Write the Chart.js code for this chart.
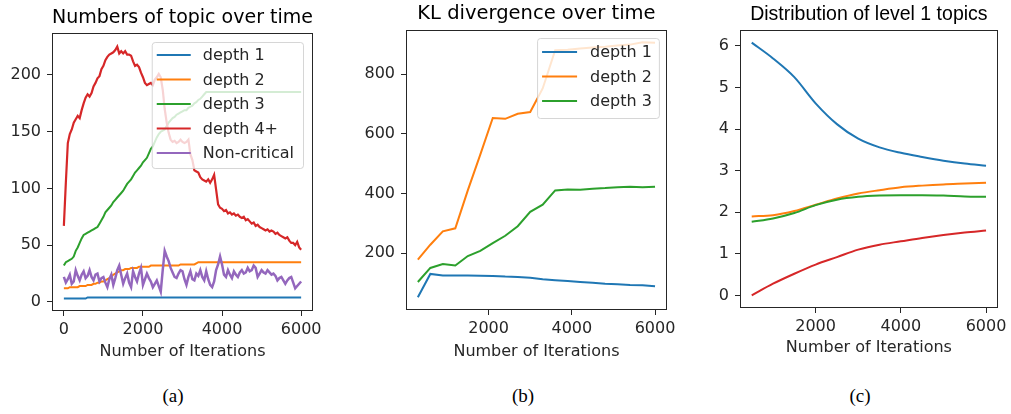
<!DOCTYPE html>
<html><head><meta charset="utf-8">
<script src="https://cdn.jsdelivr.net/npm/chart.js@4.4.1/dist/chart.umd.min.js"></script>
<style>
html,body{margin:0;padding:0;background:#fff;width:1011px;height:414px;overflow:hidden;position:relative;}
canvas{position:absolute;top:0;}
.cap{position:absolute;top:385px;font-family:"Liberation Serif","Times New Roman",serif;font-size:19px;color:#000;transform:translateX(-50%);}
</style></head><body>
<canvas id="ca" width="335" height="372" style="left:0px"></canvas>
<canvas id="cb" width="335" height="372" style="left:345px"></canvas>
<canvas id="cc" width="331" height="372" style="left:680px"></canvas>
<div class="cap" style="left:173px">(a)</div>
<div class="cap" style="left:523px">(b)</div>
<div class="cap" style="left:860px">(c)</div>
<script>
// ---------- Panel (a): Numbers of topic over time ----------
const iterA = [
 0,50,100,150,200,250,300,350,400,450,500,550,600,650,700,750,800,850,900,950,
 1000,1050,1100,1150,1200,1250,1300,1350,1400,1450,1500,1550,1600,1650,1700,1750,1800,1850,1900,1950,
 2000,2050,2100,2150,2200,2250,2300,2350,2400,2450,2500,2550,2600,2650,2700,2750,2800,2850,2900,2950,
 3000,3050,3100,3150,3200,3250,3300,3350,3400,3450,3500,3550,3600,3650,3700,3750,3800,3850,3900,3950,
 4000,4050,4100,4150,4200,4250,4300,4350,4400,4450,4500,4550,4600,4650,4700,4750,4800,4850,4900,4950,
 5000,5050,5100,5150,5200,5250,5300,5350,5400,5450,5500,5550,5600,5650,5700,5750,5800,5850,5900,5950,
 6000];
const depth1A = [
 3,3,3,3,3,3,3,3,3,3,3,3,4,4,4,4,4,4,4,4,
 4,4,4,4,4,4,4,4,4,4,4,4,4,4,4,4,4,4,4,4,
 4,4,4,4,4,4,4,4,4,4,4,4,4,4,4,4,4,4,4,4,
 4,4,4,4,4,4,4,4,4,4,4,4,4,4,4,4,4,4,4,4,
 4,4,4,4,4,4,4,4,4,4,4,4,4,4,4,4,4,4,4,4,
 4,4,4,4,4,4,4,4,4,4,4,4,4,4,4,4,4,4,4,4,
 4];
const depth2A = [
 12,12,12,13,13,13,13,13,14,14,14,14,15,15,15,16,16,17,17,18,
 18,19,20,21,22,24,25,26,27,28,28,29,29,29,30,30,30,30,31,31,
 31,31,31,31,32,32,32,32,32,32,32,32,32,32,32,32,32,32,32,33,
 33,33,33,33,33,33,33,34,35,35,35,35,35,35,35,35,35,35,35,35,
 35,35,35,35,35,35,35,35,35,35,35,35,35,35,35,35,35,35,35,35,
 35,35,35,35,35,35,35,35,35,35,35,35,35,35,35,35,35,35,35,35,
 35];
const depth3A = [
 32,35,36,37,38,40,45,48,52,56,59,60,61,62,63,64,65,66,69,72,
 75,79,81,83,85,88,90,92,94,96,98,101,104,106,108,111,114,116,118,120,
 123,125,127,131,135,137,141,145,148,150,151,152,155,158,160,162,163,165,166,167,
 168,169,169,171,172,173,175,176,178,179,181,183,185,185,185,185,185,185,185,185,
 185,185,185,185,185,185,185,185,185,185,185,185,185,185,185,185,185,185,185,185,
 185,185,185,185,185,185,185,185,185,185,185,185,185,185,185,185,185,185,185,185,
 185];
const depth4A = [
 67,105,140,148,152,158,161,164,162,169,175,180,183,181,184,190,193,197,199,205,
 208,213,216,218,219,220,222,225,219,221,219,221,218,218,217,212,208,209,207,202,
 198,193,191,192,193,191,196,198,201,198,187,170,158,149,143,141,142,140,141,143,
 141,140,141,143,130,125,116,115,114,110,108,107,106,108,105,108,112,99,86,83,
 82,80,81,78,79,77,78,76,77,75,74,75,72,73,71,69,70,67,68,66,
 65,64,63,64,62,63,62,60,61,59,58,57,56,57,54,52,52,50,53,48,
 46];
const nonCriticalA = [
 22,17,20,24,16,18,28,23,19,24,27,21,23,28,22,19,24,25,18,21,
 22,17,13,20,24,15,21,28,32,24,16,21,25,17,13,27,22,18,25,30,
 15,20,25,21,18,13,16,19,14,9,28,45,40,36,30,26,22,21,25,28,
 27,20,15,22,27,20,19,25,23,28,22,19,27,20,15,13,18,28,33,40,
 33,24,22,28,24,21,27,24,22,26,28,25,26,30,27,28,32,30,22,25,
 28,26,25,28,26,24,25,23,19,21,22,19,16,19,21,22,17,12,14,16,
 18];
const xTicksA = [0,2000,4000,6000];
const yTicksA = [0,50,100,150,200];

// ---------- Panel (b): KL divergence over time ----------
const iterB = [300,600,900,1200,1500,1800,2100,2400,2700,3000,3300,3600,3900,4200,4500,4800,5100,5400,5700,6000];
const klDepth1 = [52,130,125,125,125,124,123,121,120,117,112,109,106,103,100,97,95,93,92,89];
const klDepth2 = [178,228,273,283,410,530,653,650,667,673,752,880,882,886,889,892,896,899,907,905];
const klDepth3 = [103,150,163,158,190,207,233,258,290,338,362,410,413,412,416,418,421,422,421,422];
const xTicksB = [2000,4000,6000];
const yTicksB = [200,400,600,800];

// ---------- Panel (c): Distribution of level 1 topics ----------
const iterC = [500,1000,1500,2000,2500,3000,3500,4000,4500,5000,5500,6000];
const distBlue   = [6.08,5.70,5.25,4.62,4.12,3.77,3.56,3.43,3.33,3.24,3.17,3.12];
const distOrange = [1.90,1.93,2.03,2.18,2.33,2.45,2.53,2.60,2.64,2.67,2.69,2.71];
const distGreen  = [1.77,1.85,1.98,2.17,2.30,2.37,2.40,2.41,2.41,2.40,2.38,2.37];
const distRed    = [0.00,0.28,0.52,0.74,0.92,1.10,1.22,1.30,1.38,1.45,1.51,1.56];
const xTicksC = [2000,4000,6000];
const yTicksC = [0,1,2,3,4,5,6];

const C_BLUE='#1f77b4', C_ORANGE='#ff7f0e', C_GREEN='#2ca02c', C_RED='#d62728', C_PURPLE='#9467bd';
const TXT='#262626';
const FONT='DejaVu Sans';

function pts(xs, ys){ return xs.map((x,i)=>({x:x, y:ys[i]})); }

const frameLegend = {
  id:'frameLegend',
  afterDatasetsDraw(chart, args, o){
    const ctx = chart.ctx, a = chart.chartArea;
    ctx.save();
    if (o.show){
      const ds = chart.data.datasets;
      ctx.font = o.fontSize + 'px "' + FONT + '"';
      let mw = 0; ds.forEach(d=>{ mw = Math.max(mw, ctx.measureText(d.label).width); });
      const w = o.textOff + mw + o.padR;
      const h = o.firstRow + (ds.length-1)*o.rowH + o.lastPad;
      const x0 = a.right - o.marginR - w, y0 = a.top + o.marginT;
      ctx.beginPath();
      if (ctx.roundRect) ctx.roundRect(x0+0.5, y0+0.5, w, h, 3); else ctx.rect(x0+0.5,y0+0.5,w,h);
      ctx.fillStyle='rgba(255,255,255,0.8)'; ctx.fill();
      ctx.strokeStyle='rgba(204,204,204,0.8)'; ctx.lineWidth=1; ctx.stroke();
      ds.forEach((d,i)=>{
        const yy = y0 + o.firstRow + i*o.rowH;
        ctx.beginPath(); ctx.strokeStyle=d.borderColor; ctx.lineWidth=2;
        ctx.moveTo(x0+o.hx, yy); ctx.lineTo(x0+o.hx+o.hl, yy); ctx.stroke();
        ctx.fillStyle=TXT; ctx.textBaseline='middle'; ctx.textAlign='left';
        ctx.fillText(d.label, x0+o.textOff, yy+1);
      });
    }
    ctx.strokeStyle='#262626'; ctx.lineWidth=1;
    ctx.strokeRect(Math.round(a.left)+0.5, Math.round(a.top)+0.5, Math.round(a.right-a.left)-1, Math.round(a.bottom-a.top)-1);
    ctx.restore();
  }
};

function xScale(min,max,ticks,axisH,padB){
  return { type:'linear', min:min, max:max,
    afterBuildTicks: s=>{ s.ticks = ticks.map(v=>({value:v})); },
    afterFit: s=>{ s.height = axisH; },
    grid:{drawOnChartArea:false, drawTicks:true, tickLength:5, color:TXT},
    border:{display:false},
    ticks:{font:{family:FONT,size:16}, color:TXT, padding:4, maxRotation:0, autoSkip:false, callback:v=>String(v)},
    title:{display:true, text:'Number of Iterations', font:{family:FONT,size:16}, color:TXT, padding:{top:0,bottom:padB}}
  };
}
function yScale(min,max,ticks,axisW){
  return { type:'linear', min:min, max:max,
    afterBuildTicks: s=>{ s.ticks = ticks.map(v=>({value:v})); },
    afterFit: s=>{ s.width = axisW; },
    grid:{drawOnChartArea:false, drawTicks:true, tickLength:5, color:TXT},
    border:{display:false},
    ticks:{font:{family:FONT,size:16}, color:TXT, padding:6, autoSkip:false, callback:v=>String(v)}
  };
}
function line(label,color,data,order,smooth,width){
  return {label:label, data:data, borderColor:color, backgroundColor:color, borderWidth:width||2,
    pointRadius:0, tension: smooth?0.4:0, cubicInterpolationMode: smooth?'monotone':'default', order:order, fill:false};
}
function makeChart(id, datasets, cfg){
  return new Chart(document.getElementById(id), {
    type:'line',
    data:{datasets:datasets},
    options:{
      responsive:false, animation:false, parsing:true,
      layout:{padding:{left:0,right:cfg.padR,top:0,bottom:0}},
      plugins:{
        legend:{display:false}, tooltip:{enabled:false},
        title:{display:true, fullSize:false, text:cfg.title, color:'#000', font:{family:cfg.titleFont,size:cfg.titleSize,weight:'normal'},
          padding:{top:cfg.tPadT,bottom:cfg.tPadB}},
        frameLegend:cfg.legend
      },
      scales:{ x:cfg.x, y:cfg.y }
    },
    plugins:[frameLegend]
  });
}

makeChart('ca', [
  line('depth 1', C_BLUE, pts(iterA,depth1A), 4),
  line('depth 2', C_ORANGE, pts(iterA,depth2A), 3),
  line('depth 3', C_GREEN, pts(iterA,depth3A), 2),
  line('depth 4+', C_RED, pts(iterA,depth4A), 1, false, 2.2),
  line('Non-critical', C_PURPLE, pts(iterA,nonCriticalA), 0, false, 2.5)
], {title:'Numbers of topic over time', titleFont:FONT, titleSize:19.5, tPadT:6.3, tPadB:3.3, padR:22,
   x:xScale(-300,6300,xTicksA,61,10.4), y:yScale(-8,237,yTicksA,52),
   legend:{show:true, fontSize:16, marginR:10, marginT:9, firstRow:13, rowH:24.5, lastPad:15, hx:5, hl:34, textOff:51, padR:9}});

makeChart('cb', [
  line('depth 1', C_BLUE, pts(iterB,klDepth1), 2),
  line('depth 2', C_ORANGE, pts(iterB,klDepth2), 1),
  line('depth 3', C_GREEN, pts(iterB,klDepth3), 0)
], {title:'KL divergence over time', titleFont:FONT, titleSize:19.5, tPadT:2.3, tPadB:4.3, padR:12,
   x:xScale(15,6285,xTicksB,62,10.4), y:yScale(9,948,yTicksB,61),
   legend:{show:true, fontSize:16, marginR:8, marginT:8, firstRow:14, rowH:24.5, lastPad:17, hx:5, hl:35, textOff:53, padR:7}});

makeChart('cc', [
  line('blue', C_BLUE, pts(iterC,distBlue), 3, true),
  line('orange', C_ORANGE, pts(iterC,distOrange), 2, true),
  line('green', C_GREEN, pts(iterC,distGreen), 1, true),
  line('red', C_RED, pts(iterC,distRed), 0, true)
], {title:'Distribution of level 1 topics', titleFont:'Liberation Sans', titleSize:19.5, tPadT:3.3, tPadB:3.3, padR:10,
   x:xScale(225,6275,xTicksC,64,14.4), y:yScale(-0.304,6.384,yTicksC,60),
   legend:{show:false}});
</script>
</body></html>
